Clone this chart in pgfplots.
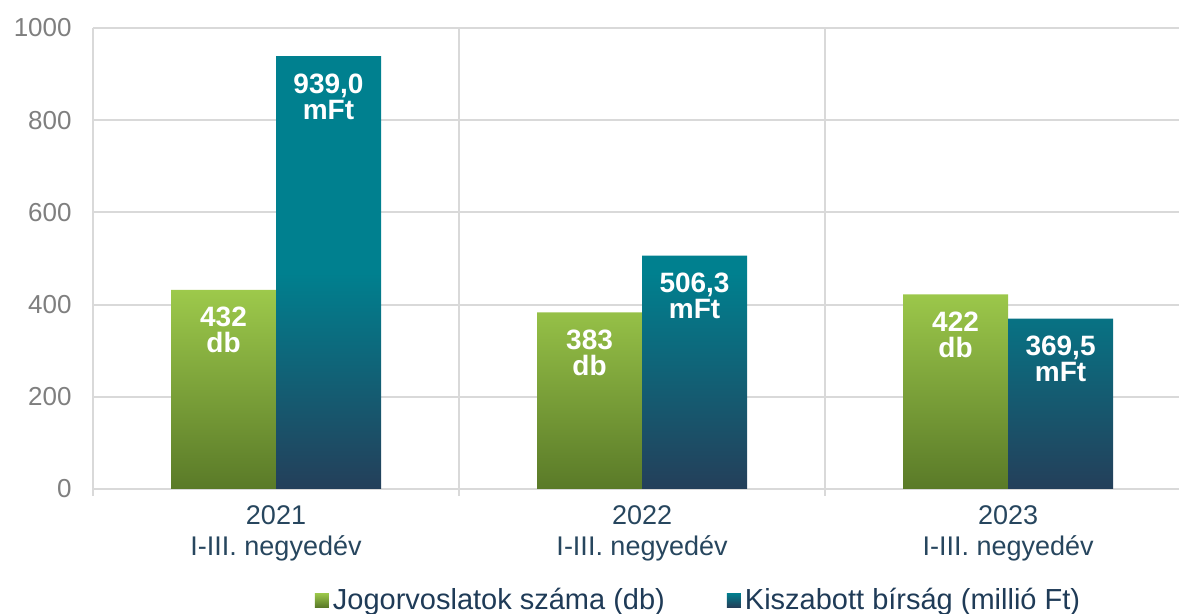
\documentclass[border=0pt]{standalone}
\usepackage{pgfplots}
\pgfplotsset{compat=1.18}
\usepackage{fontspec}
\setmainfont{Liberation Sans}

\definecolor{greentop}{HTML}{9DC94B}
\definecolor{greenbot}{HTML}{5A7A28}
\definecolor{tealtop}{HTML}{00808F}
\definecolor{tealbot}{HTML}{243F5A}
\definecolor{gridgray}{HTML}{D9D9D9}
\definecolor{tickgray}{HTML}{7F7F7F}
\definecolor{labeldark}{HTML}{27465E}
\definecolor{legenddark}{HTML}{1F3B57}

\begin{document}
\begin{tikzpicture}
\path[use as bounding box] (0,0) rectangle (589.5pt,307pt);
\begin{axis}[
    at={(46.5pt,62.5pt)}, anchor=south west,
    scale only axis, width=543pt, height=230.5pt,
    ybar=0pt, bar width=52.5pt,
    xmin=-0.5, xmax=2.467, ymin=0, ymax=1000,
    xtick={0,1,2},
    xticklabels={{2021\\I-III. negyedév},{2022\\I-III. negyedév},{2023\\I-III. negyedév}},
    minor xtick={-0.5,0.5,1.5},
    ytick={0,200,...,1000},
    axis lines=left,
    axis line style={-, draw=gridgray, line width=1pt},
    ymajorgrids, xminorgrids,
    grid style={draw=gridgray, line width=1pt},
    major tick length=0pt, minor tick length=3.5pt, tick align=outside,
    minor tick style={draw=gridgray, line width=1pt},
    /pgf/number format/assume math mode=true,
    /pgf/number format/1000 sep={},
    yticklabel style={font=\fontsize{13}{15}\selectfont, text=tickgray, inner sep=0pt, xshift=-10.5pt},
    xticklabel style={font=\fontsize{13.5}{15.5}\selectfont, text=labeldark, align=center, inner sep=0pt, yshift=-8pt},
    legend columns=2,
    legend style={at={(0.5585,-0.2408)}, anchor=center, draw=none, fill=none,
        font=\fontsize{14.5}{16}\selectfont, text=legenddark,
        /tikz/every even column/.append style={column sep=29pt}},
    legend cell align=left,
]
\addplot[draw=none, top color=greentop, bottom color=greenbot,
    nodes near coords={\pgfmathprintnumber{\pgfplotspointmeta}\\db},
    every node near coord/.append style={anchor=north, yshift=-8.5pt, align=center,
        text=white, inner sep=0pt, font=\bfseries\fontsize{14}{13}\selectfont},
    legend image code/.code={\fill[top color=greentop,bottom color=greenbot] (0pt,-3.5pt) rectangle (7pt,3.5pt);}]
    coordinates {(0,432) (1,383) (2,422)};
\addlegendentry{Jogorvoslatok száma (db)}
\addplot[draw=none, top color=tealtop, bottom color=tealbot, middle color=tealtop,
    nodes near coords={\pgfmathprintnumber[fixed,fixed zerofill,precision=1,use comma]{\pgfplotspointmeta}\\mFt},
    every node near coord/.append style={anchor=north, yshift=-8.5pt, align=center,
        text=white, inner sep=0pt, font=\bfseries\fontsize{14}{13}\selectfont},
    legend image code/.code={\fill[top color=tealtop,bottom color=tealbot] (0pt,-3.5pt) rectangle (7pt,3.5pt);}]
    coordinates {(0,939.0) (1,506.3) (2,369.5)};
\addlegendentry{Kiszabott bírság (millió Ft)}
\end{axis}
\end{tikzpicture}
\end{document}
